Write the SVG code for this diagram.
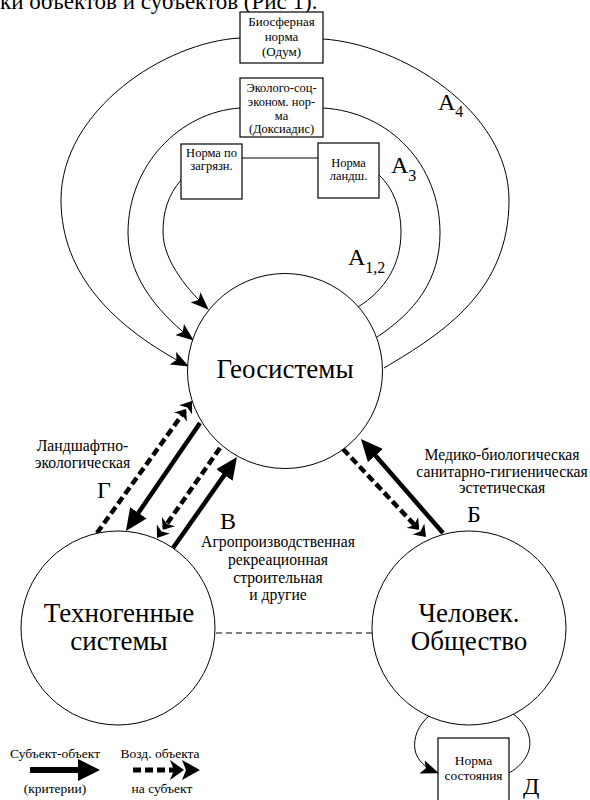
<svg xmlns="http://www.w3.org/2000/svg" width="590" height="800" viewBox="0 0 590 800">
<defs>
<style>
text{font-family:"Liberation Serif","Times New Roman",serif;fill:#000}
.box{fill:#fff;stroke:#000;stroke-width:1.2}
.node{fill:#fff;stroke:#000;stroke-width:1}
.arc{fill:none;stroke:#000;stroke-width:1}
.bt{font-size:12.5px;text-anchor:middle}
.big{font-size:27px;text-anchor:middle}
.lab{font-size:15.7px;text-anchor:middle}
.L{font-size:24px}
.sub{font-size:16px}
.lg{font-size:13.5px;text-anchor:middle}
.solid{stroke:#000;stroke-width:4.5;fill:none}
.dash{stroke:#000;stroke-width:4.5;stroke-dasharray:8 4;fill:none}
</style>
<marker id="ah" markerUnits="userSpaceOnUse" markerWidth="18" markerHeight="14" viewBox="0 0 18 14" refX="17" refY="7" orient="auto"><path d="M0,0 L18,7 L0,14 L4,7 z"/></marker>
<marker id="big" markerUnits="userSpaceOnUse" markerWidth="22" markerHeight="20" viewBox="0 0 22 20" refX="6" refY="10" orient="auto"><path d="M0,0 L22,10 L0,20 z"/></marker>
<marker id="dbl" markerUnits="userSpaceOnUse" markerWidth="20" markerHeight="16" viewBox="0 0 20 16" refX="8" refY="8" orient="auto"><path d="M0,0 L10,8 L0,16 L3,8 z M9,0 L20,8 L9,16 L12,8 z"/></marker>
</defs>
<rect width="590" height="800" fill="#fff"/>
<text x="0" y="9" style="font-size:23px">ки объектов и субъектов (Рис 1).</text>

<g id="connectors">
<path class="arc" d="M240,38 C165,42 61,110 61,200 C61,275 115,328 188,366" marker-end="url(#ah)"/>
<path class="arc" d="M323,39 C400,44 509,110 509,200 C509,290 445,332 384,368"/>
<path class="arc" d="M240,108 C180,112 128,165 128,233 C128,282 165,318 193,340" marker-end="url(#ah)"/>
<path class="arc" d="M323,108 C390,112 440,165 440,233 C440,280 415,312 377,337"/>
<path class="arc" d="M181,180 C168,195 163,212 163,232 C163,262 190,292 208,309" marker-end="url(#ah)"/>
<path class="arc" d="M379,175 C393,188 401,208 401,232 C401,265 385,290 358,307"/>
<path class="arc" d="M242,158 H318"/>
<path class="dash" d="M97,533 L185,410.7" marker-end="url(#dbl)"/>
<path class="solid" d="M200,423 L135,517.8" marker-end="url(#big)"/>
<path class="dash" d="M220,448 L163.9,528.2" marker-end="url(#dbl)"/>
<path class="solid" d="M173,548 L227.8,470.1" marker-end="url(#big)"/>
<path class="dash" d="M343,449 L417.8,528.3" marker-end="url(#dbl)"/>
<path class="solid" d="M443,533 L371.5,451.1" marker-end="url(#big)"/>
<path class="arc" d="M216,633 H372" style="stroke-dasharray:6 4;stroke-width:1.2"/>
<path class="arc" d="M430,715 C418,725 413,738 415,750 C417,760 425,768 438,773" marker-end="url(#ah)"/>
<path class="arc" d="M513,714 C527,724 532,738 529,750 C526,760 518,768 509,773"/>
</g>

<g id="biosphere">
<rect class="box" x="240" y="12" width="83" height="51"/>
<text class="bt" x="281.5" y="26" style="font-size:13px">Биосферная</text>
<text class="bt" x="281.5" y="41" style="font-size:13px">норма</text>
<text class="bt" x="281.5" y="56" style="font-size:13px">(Одум)</text>
</g>
<g id="eco">
<rect class="box" x="240" y="78" width="83" height="59"/>
<text class="bt" x="281.5" y="92">Эколого-соц-</text>
<text class="bt" x="281.5" y="106">эконом. нор-</text>
<text class="bt" x="281.5" y="120">ма</text>
<text class="bt" x="281.5" y="133">(Доксиадис)</text>
</g>
<g id="pollution">
<rect class="box" x="181" y="144" width="61" height="55"/>
<text class="bt" x="211.5" y="157">Норма по</text>
<text class="bt" x="211.5" y="170">загрязн.</text>
</g>
<g id="landscape">
<rect class="box" x="318" y="143" width="61" height="55"/>
<text class="bt" x="348.5" y="167">Норма</text>
<text class="bt" x="348.5" y="180">ландш.</text>
</g>
<g id="geo">
<circle class="node" cx="285" cy="371" r="97.5"/>
<text class="big" x="285" y="378">Геосистемы</text>
</g>
<g id="techno">
<circle class="node" cx="118" cy="628" r="97"/>
<text class="big" x="119" y="622">Техногенные</text>
<text class="big" x="119" y="650">системы</text>
</g>
<g id="human">
<circle class="node" cx="469" cy="628" r="97"/>
<text class="big" x="469" y="622">Человек.</text>
<text class="big" x="469" y="650">Общество</text>
</g>
<g id="state">
<rect class="box" x="438" y="738" width="71" height="70"/>
<text class="lg" x="473.5" y="765">Норма</text>
<text class="lg" x="473.5" y="780">состояния</text>
</g>

<g id="labels">
<text class="L" x="438" y="110">A<tspan class="sub" dy="7">4</tspan></text>
<text class="L" x="391" y="173">A<tspan class="sub" dy="8">3</tspan></text>
<text class="L" x="348" y="265">A<tspan class="sub" dy="8">1,2</tspan></text>
<text class="lab" x="82.5" y="451">Ландшафтно-</text>
<text class="lab" x="82.5" y="468">экологическая</text>
<text class="L" x="97" y="498">Г</text>
<text class="L" x="220" y="529">В</text>
<text class="lab" x="278" y="547">Агропроизводственная</text>
<text class="lab" x="278" y="565">рекреационная</text>
<text class="lab" x="278" y="583">строительная</text>
<text class="lab" x="278" y="600">и другие</text>
<text class="lab" x="502" y="460">Медико-биологическая</text>
<text class="lab" x="502" y="477">санитарно-гигиеническая</text>
<text class="lab" x="502" y="493">эстетическая</text>
<text class="L" x="467" y="522">Б</text>
<text class="L" x="523" y="794">Д</text>
</g>

<g id="legend">
<text class="lg" x="55" y="758">Субъект-объект</text>
<path d="M30,770 H80" stroke="#000" stroke-width="6"/>
<path d="M78,759 L100,770 L78,781 z"/>
<text class="lg" x="55" y="793">(критерии)</text>
<text class="lg" x="160" y="758">Возд. объекта</text>
<path d="M133,770 H176" stroke="#000" stroke-width="5" stroke-dasharray="8 4"/>
<path d="M170,760 L184,770 L170,780 L174,770 z M182,760 L200,770 L182,780 L186,770 z"/>
<text class="lg" x="162" y="793">на субъект</text>
</g>
</svg>
